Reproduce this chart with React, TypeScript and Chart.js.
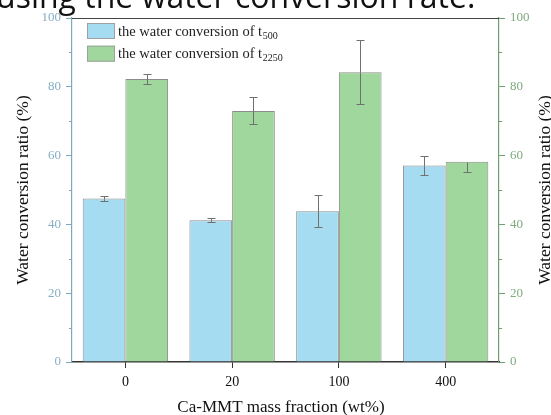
import React, { useEffect, useRef } from "react";
import { Chart, registerables } from "chart.js";

Chart.register(...registerables);

const categories = ["0", "20", "100", "400"];
const t500Values = [47.5, 41.2, 43.8, 57.1];
const t500ErrUp = [0.8, 0.6, 4.7, 2.8];
const t500ErrDown = [0.8, 0.6, 4.7, 2.8];
const t2250Values = [82.3, 73.0, 84.2, 58.2];
const t2250ErrUp = [1.5, 4.0, 9.3, 0];
const t2250ErrDown = [1.5, 3.9, 9.3, 3.1];
const seriesLabels = ["the water conversion of t", "the water conversion of t"];
const seriesSubs = ["500", "2250"];
const yTicks = [0, 20, 40, 60, 80, 100];

const BLUE = "#a6dcf2";
const GREEN = "#9fd79c";
const LEFT_AXIS = "#7fa8be";
const LEFT_TXT = "#86aec3";
const RIGHT_AXIS = "#6e9f6e";
const RIGHT_TXT = "#7fa97f";
const SERIF = "'Liberation Serif', 'Times New Roman', serif";

const errs = [
  { up: t500ErrUp, down: t500ErrDown },
  { up: t2250ErrUp, down: t2250ErrDown },
];

const decorPlugin = {
  id: "decor",
  afterDatasetsDraw(chart: any) {
    const ctx = chart.ctx;
    ctx.save();
    // error bars
    chart.data.datasets.forEach((ds: any, i: number) => {
      const meta = chart.getDatasetMeta(i);
      const scale = chart.scales[ds.yAxisID];
      meta.data.forEach((bar: any, j: number) => {
        const v = ds.data[j];
        const up = errs[i].up[j];
        const dn = errs[i].down[j];
        const x = Math.round(bar.x) + 0.5;
        const yU = Math.round(scale.getPixelForValue(v + up)) + 0.5;
        const yD = Math.round(scale.getPixelForValue(v - dn)) + 0.5;
        const yV = Math.round(scale.getPixelForValue(v)) + 0.5;
        ctx.strokeStyle = "#707070";
        ctx.lineWidth = 1;
        ctx.beginPath();
        if (up > 0) {
          ctx.moveTo(x, yV);
          ctx.lineTo(x, yU);
          ctx.moveTo(x - 4, yU);
          ctx.lineTo(x + 4, yU);
        }
        if (dn > 0) {
          ctx.moveTo(x, yV);
          ctx.lineTo(x, yD);
          ctx.moveTo(x - 4, yD);
          ctx.lineTo(x + 4, yD);
        }
        ctx.stroke();
      });
    });
    ctx.restore();
  },
  afterDraw(chart: any) {
    const ctx = chart.ctx;
    const { left, right, top, bottom } = chart.chartArea;
    const y = chart.scales.y;
    ctx.save();
    // top frame line
    ctx.strokeStyle = "#444";
    ctx.lineWidth = 1.2;
    ctx.beginPath();
    ctx.moveTo(left, top + 0.5);
    ctx.lineTo(right, top + 0.5);
    ctx.stroke();
    // minor ticks
    ctx.lineWidth = 1;
    for (let v = 10; v < 100; v += 20) {
      const py = Math.round(y.getPixelForValue(v)) + 0.5;
      ctx.strokeStyle = LEFT_AXIS;
      ctx.beginPath();
      ctx.moveTo(left - 3, py);
      ctx.lineTo(left, py);
      ctx.stroke();
      ctx.strokeStyle = RIGHT_AXIS;
      ctx.beginPath();
      ctx.moveTo(right, py);
      ctx.lineTo(right + 3, py);
      ctx.stroke();
    }
    // legend
    const colors = [BLUE, GREEN];
    colors.forEach((c, i) => {
      const bx = 87;
      const by = 23 + i * 22.7;
      ctx.fillStyle = c;
      ctx.fillRect(bx, by, 28, 16);
      ctx.strokeStyle = "#a0a0a0";
      ctx.lineWidth = 1;
      ctx.strokeRect(bx + 0.5, by + 0.5, 27, 15);
      ctx.fillStyle = "#222";
      ctx.textBaseline = "alphabetic";
      ctx.textAlign = "left";
      ctx.font = `14.5px ${SERIF}`;
      const base = by + 12.5;
      const label = seriesLabels[i];
      ctx.fillText(label, 118, base);
      const w = ctx.measureText(label).width;
      ctx.font = `10px ${SERIF}`;
      ctx.fillText(seriesSubs[i], 118 + w + 0.5, base + 3);
    });
    // axis titles
    ctx.fillStyle = "#111";
    ctx.font = `17.5px ${SERIF}`;
    ctx.textAlign = "center";
    ctx.textBaseline = "middle";
    const cy = (top + bottom) / 2;
    ctx.save();
    ctx.translate(23, cy);
    ctx.rotate(-Math.PI / 2);
    ctx.fillText("Water conversion ratio (%)", 0, 0);
    ctx.restore();
    ctx.save();
    ctx.translate(545, cy);
    ctx.rotate(-Math.PI / 2);
    ctx.fillText("Water conversion ratio (%)", 0, 0);
    ctx.restore();
    ctx.font = `17px ${SERIF}`;
    ctx.fillText("Ca-MMT mass fraction (wt%)", 281, 408);
    ctx.restore();
  },
};

export default function App() {
  const ref = useRef<HTMLCanvasElement | null>(null);
  useEffect(() => {
    if (!ref.current) return;
    const chart = new Chart(ref.current, {
      type: "bar",
      data: {
        labels: categories,
        datasets: [
          {
            label: seriesLabels[0] + seriesSubs[0],
            data: t500Values,
            backgroundColor: BLUE,
            borderColor: "#8c8c8c",
            borderWidth: 1,
            yAxisID: "y",
            categoryPercentage: 0.8,
            barPercentage: 1.0,
          },
          {
            label: seriesLabels[1] + seriesSubs[1],
            data: t2250Values,
            backgroundColor: GREEN,
            borderColor: "#8c8c8c",
            borderWidth: 1,
            yAxisID: "y2",
            categoryPercentage: 0.8,
            barPercentage: 1.0,
          },
        ],
      },
      options: {
        responsive: false,
        animation: false,
        devicePixelRatio: 1,
        layout: { padding: { top: 18, left: 0, right: 0, bottom: 0 } },
        plugins: { legend: { display: false }, tooltip: { enabled: false } },
        scales: {
          x: {
            type: "category",
            afterFit: (s: any) => {
              s.height = 53;
            },
            grid: {
              offset: false,
              drawOnChartArea: false,
              drawTicks: true,
              tickLength: 6,
              tickColor: "#333",
            },
            border: { display: true, color: "#333", width: 1.5 },
            ticks: {
              color: "#111",
              font: { family: SERIF, size: 14 },
              padding: 6,
            },
          },
          y: {
            type: "linear",
            position: "left",
            min: 0,
            max: 100,
            afterBuildTicks: (s: any) => {
              s.ticks = yTicks.map((v) => ({ value: v }));
            },
            afterFit: (s: any) => {
              s.width = 72;
            },
            grid: {
              drawOnChartArea: false,
              drawTicks: true,
              tickLength: 6,
              tickColor: LEFT_AXIS,
            },
            border: { display: true, color: LEFT_AXIS, width: 1.2 },
            ticks: {
              color: LEFT_TXT,
              font: { family: SERIF, size: 13 },
              padding: 5,
            },
          },
          y2: {
            type: "linear",
            position: "right",
            min: 0,
            max: 100,
            afterBuildTicks: (s: any) => {
              s.ticks = yTicks.map((v) => ({ value: v }));
            },
            afterFit: (s: any) => {
              s.width = 52;
            },
            grid: {
              drawOnChartArea: false,
              drawTicks: true,
              tickLength: 6,
              tickColor: RIGHT_AXIS,
            },
            border: { display: true, color: RIGHT_AXIS, width: 1.2 },
            ticks: {
              color: RIGHT_TXT,
              font: { family: SERIF, size: 13 },
              padding: 5,
            },
          },
        },
      },
      plugins: [decorPlugin],
    } as any);
    return () => chart.destroy();
  }, []);
  return (
    <div
      style={{
        position: "absolute",
        left: 0,
        top: 0,
        width: 551,
        height: 415,
        overflow: "hidden",
        background: "#fff",
      }}
    >
      <canvas ref={ref} width={551} height={415} style={{ display: "block" }} />
      <div
        style={{
          position: "absolute",
          left: -4,
          top: -23,
          fontFamily: "'Open Sans', sans-serif",
          fontSize: 32,
          lineHeight: "38px",
          color: "#111",
          whiteSpace: "nowrap",
        }}
      >
        using the water conversion rate.
      </div>
    </div>
  );
}
